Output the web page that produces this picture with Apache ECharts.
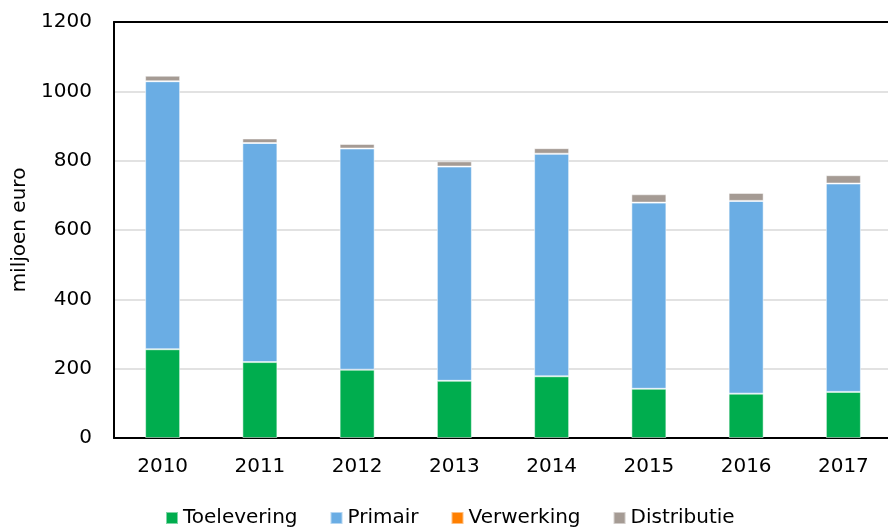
<!DOCTYPE html>
<html>
<head>
<meta charset="utf-8">
<script src="https://cdn.jsdelivr.net/npm/echarts@6/dist/echarts.min.js"></script>
<style>
  html, body { margin: 0; padding: 0; background: #fff; }
  #chart { width: 888px; height: 529px; }
</style>
</head>
<body>
<div id="chart"></div>
<script>
// jaren en waarden (miljoen euro)
const years = ['2010', '2011', '2012', '2013', '2014', '2015', '2016', '2017']
const toelevering = [256, 219, 197, 165, 178, 142, 128, 133]
const primair = [773, 632, 638, 618, 642, 537, 556, 601]
const verwerking = [0, 0, 0, 0, 0, 0, 0, 0]
const distributie = [16, 13, 13, 15, 16, 24, 23, 24]

const font = 'DejaVu Sans, Verdana, sans-serif'

const chart = echarts.init(document.getElementById('chart'))

const barStyle = (color) => ({
  color: color,
  borderColor: 'rgba(255,255,255,0.5)',
  borderWidth: 1
})

const mkSeries = (name, data, color) => ({
  name: name,
  type: 'bar',
  stack: 'total',
  data: data,
  barWidth: 35,
  itemStyle: barStyle(color)
})

const option = {
  animation: false,
  textStyle: { fontFamily: font },
  grid: {
    left: 114,
    width: 778,
    top: 22,
    bottom: 91,
    containLabel: false,
    outerBoundsMode: 'none'
  },
  legend: {
    left: 160,
    top: 503,
    itemWidth: 12,
    itemHeight: 12,
    itemGap: 32,
    icon: 'rect',
    textStyle: { fontSize: 20, color: '#000', fontFamily: font },
    data: ['Toelevering', 'Primair', 'Verwerking', 'Distributie']
  },
  xAxis: [
    {
      type: 'category',
      data: years,
      axisLine: { lineStyle: { color: '#000', width: 2 } },
      axisTick: { show: false },
      axisLabel: { fontSize: 20, color: '#000', margin: 19, fontFamily: font }
    },
    {
      // bovenrand van het plotvlak
      type: 'category',
      position: 'top',
      data: years,
      axisLine: { show: true, lineStyle: { color: '#000', width: 2 } },
      axisTick: { show: false },
      axisLabel: { show: false },
      splitLine: { show: false }
    }
  ],
  yAxis: {
    type: 'value',
    min: 0,
    max: 1200,
    interval: 200,
    name: 'miljoen euro',
    nameLocation: 'middle',
    nameGap: 82,
    nameTextStyle: { fontSize: 20, color: '#000', fontFamily: font },
    axisLine: { show: true, lineStyle: { color: '#000', width: 2 } },
    axisTick: { show: false },
    axisLabel: {
      fontSize: 20,
      color: '#000',
      margin: 22,
      fontFamily: font,
      formatter: (v) => String(v)
    },
    splitLine: { lineStyle: { color: '#d9d9d9', width: 1.5 } }
  },
  series: [
    mkSeries('Toelevering', toelevering, '#00ad4e'),
    mkSeries('Primair', primair, '#6aade4'),
    mkSeries('Verwerking', verwerking, '#ff7f00'),
    mkSeries('Distributie', distributie, '#a59b94')
  ]
}

chart.setOption(option)
</script>
</body>
</html>
